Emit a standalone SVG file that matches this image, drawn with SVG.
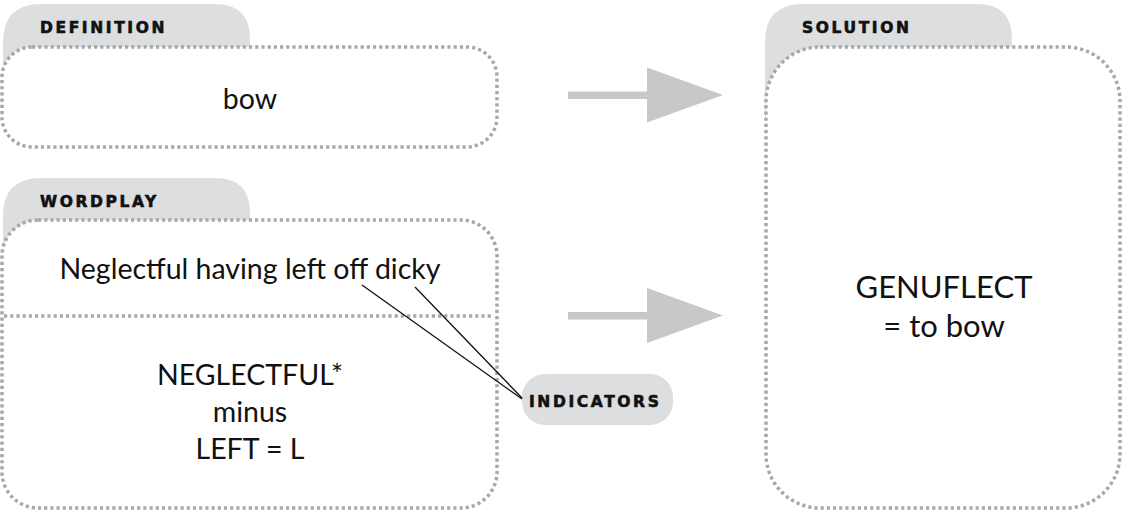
<svg xmlns="http://www.w3.org/2000/svg" width="1124" height="516" viewBox="0 0 1124 516">
<style>
.tab{fill:#dcdee0}
.box{fill:#fff;stroke:#a8a8a8;stroke-width:3.5;stroke-dasharray:3.2 3}
.lbl{font-family:"DejaVu Sans",sans-serif;font-weight:900;font-size:15.5px;letter-spacing:2.6px;fill:#111;stroke:#111;stroke-width:0.6}
.txt{font-family:Lato,"Open Sans",sans-serif;font-size:28.5px;fill:#111;text-anchor:middle}
.big{font-size:31px}
.arr{fill:#c6c8ca}
.lead{stroke:#111;stroke-width:1.3;fill:none}
</style>
<rect width="1124" height="516" fill="#fff"/>
<g id="definition">
<path class="tab" d="M3 80 V42 Q3 4 41 4 H215 Q250 4 250 39 V80 Z"/>
<rect class="box" x="2" y="47" width="495" height="100" rx="30"/>
<text class="lbl" x="40" y="33">DEFINITION</text>
<text class="txt" x="250" y="109">bow</text>
</g>
<g id="wordplay">
<path class="tab" d="M3 260 V216 Q3 178 41 178 H215 Q250 178 250 213 V260 Z"/>
<rect class="box" x="2" y="220" width="495" height="288" rx="36"/>
<line class="box" x1="4" y1="316" x2="491" y2="316"/>
<text class="lbl" x="40" y="207">WORDPLAY</text>
<text class="txt" x="250" y="279">Neglectful having left off dicky</text>
<text class="txt" x="250" y="385">NEGLECTFUL*</text>
<text class="txt" x="250" y="422">minus</text>
<text class="txt" x="250" y="459">LEFT = L</text>
</g>
<g id="solution">
<path class="tab" d="M765 120 V42 Q765 4 803 4 H977 Q1012 4 1012 39 V120 Z"/>
<rect class="box" x="766" y="47" width="354" height="461" rx="54"/>
<text class="lbl" x="802" y="33">SOLUTION</text>
<text class="txt big" x="944" y="298">GENUFLECT</text>
<text class="txt big" x="944" y="337">= to bow</text>
</g>
<g id="indicators">
<rect x="522" y="374" width="151" height="51" rx="23" fill="#dcdee0"/>
<text class="lbl" x="529" y="407">INDICATORS</text>
</g>
<g id="connectors">
<path class="arr" d="M568 91.5 H647 V67.5 L723 95 L647 122.5 V99 H568 Z"/>
<path class="arr" d="M568 312 H647 V288 L723 315.5 L647 343 V319.5 H568 Z"/>
<line class="lead" x1="362" y1="285" x2="522" y2="399"/>
<line class="lead" x1="415" y1="287" x2="522" y2="398"/>
</g>
</svg>
